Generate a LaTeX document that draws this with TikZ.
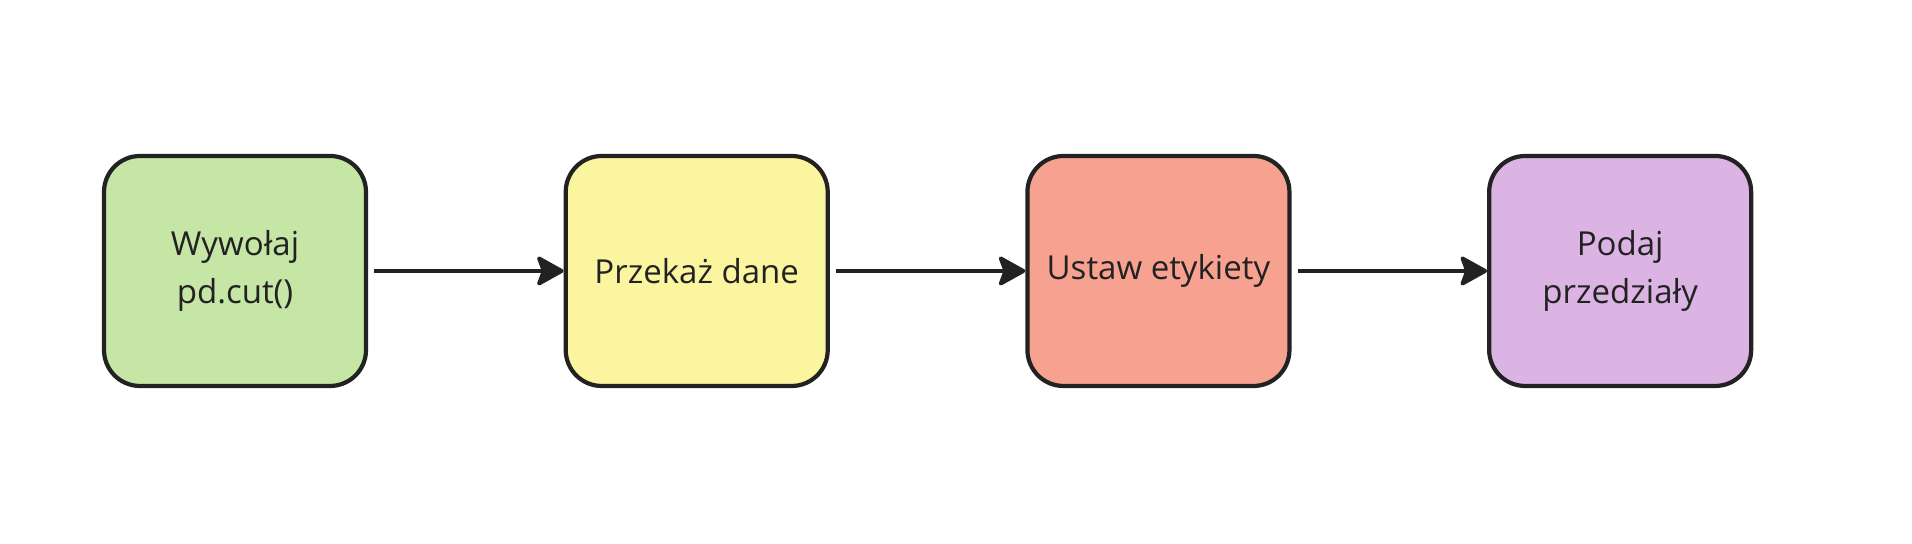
\documentclass[tikz,border=0pt]{standalone}
\usepackage{fontspec}
\setmainfont{Open Sans}
\usetikzlibrary{positioning,arrows.meta}

\definecolor{krokA}{HTML}{C6E6A6}
\definecolor{krokB}{HTML}{FCF5A0}
\definecolor{krokC}{HTML}{F7A290}
\definecolor{krokD}{HTML}{DCB4E3}
\definecolor{obrys}{HTML}{222222}

\begin{document}
\begin{tikzpicture}[
  krok/.style={draw=obrys, line width=1.2pt, rounded corners=0.36cm,
    minimum width=2.62cm, minimum height=2.3cm, align=center,
    font=\fontsize{9.4}{13.6}\selectfont, text=obrys},
  strzalka/.style={-{Stealth[length=0.3cm,width=0.33cm,inset=0.06cm,round]}, line width=1.1pt, draw=obrys, shorten <=0.06cm}
]

\useasboundingbox (0,0) rectangle (19.12,5.44);

\node[krok, fill=krokA] (wywolaj) at (2.35,2.73) {Wywołaj\\pd.cut()};
\node[krok, fill=krokB, right=1.955cm of wywolaj] (przekaz) {Przekaż dane};
\node[krok, fill=krokC, right=1.955cm of przekaz] (etykiety) {Ustaw etykiety};
\node[krok, fill=krokD, right=1.955cm of etykiety] (przedzialy) {Podaj\\przedziały};

\draw[strzalka] (wywolaj) -- (przekaz);
\draw[strzalka] (przekaz) -- (etykiety);
\draw[strzalka] (etykiety) -- (przedzialy);

\end{tikzpicture}
\end{document}
